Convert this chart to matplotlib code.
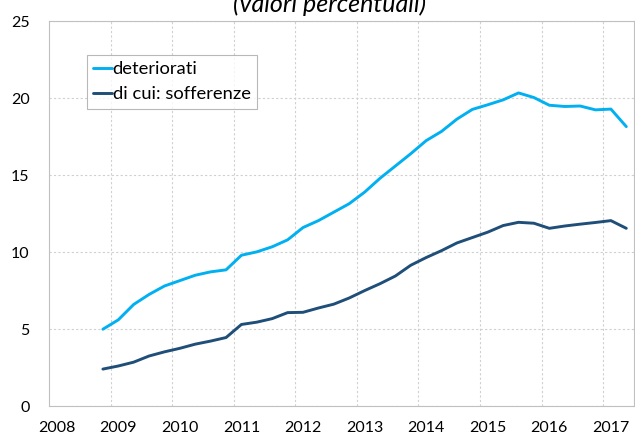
import numpy as np
import matplotlib
matplotlib.use("Agg")
import matplotlib.pyplot as plt

plt.rcParams['font.family'] = ['Lato', 'DejaVu Sans']

# quarterly observations, Q4 2008 .. Q2 2017
quarters = np.arange(35) * 0.25 + 2008.875

deteriorati = [4.99, 5.6, 6.6, 7.25, 7.8, 8.15, 8.5, 8.72, 8.85, 9.8,
               10.02, 10.35, 10.8, 11.6, 12.05, 12.6, 13.15, 13.9, 14.8, 15.6,
               16.4, 17.25, 17.85, 18.65, 19.28, 19.58, 19.9, 20.35, 20.05, 19.55,
               19.47, 19.5, 19.25, 19.3, 18.16]
sofferenze = [2.40, 2.6, 2.85, 3.25, 3.52, 3.75, 4.02, 4.22, 4.45, 5.3,
              5.45, 5.68, 6.07, 6.09, 6.37, 6.62, 7.02, 7.5, 7.95, 8.45,
              9.15, 9.65, 10.1, 10.6, 10.95, 11.3, 11.73, 11.94, 11.88, 11.55,
              11.7, 11.82, 11.93, 12.05, 11.55]

years = list(range(2008, 2018))
year_labels = [str(y) for y in years]
y_ticks = [0, 5, 10, 15, 20, 25]

fig = plt.figure(figsize=(6.35, 4.37), dpi=100)
ax = fig.add_axes([49 / 635, 1 - 406 / 437, 585 / 635, (406 - 21.4) / 437])

ax.plot(quarters, deteriorati, color='#00b0f0', lw=2.1, solid_capstyle='round',
        solid_joinstyle='round', label='deteriorati')
ax.plot(quarters, sofferenze, color='#1f4e79', lw=2.1, solid_capstyle='round',
        solid_joinstyle='round', label='di cui: sofferenze')

ax.set_xlim(2008, 2017.5)
ax.set_ylim(0, 25)
ax.set_yticks(y_ticks)

# labels sit a little right of the year gridlines
ax.set_xticks([y + 0.125 for y in years])
ax.set_xticklabels(year_labels)
ax.set_xticks(years[1:], minor=True)
ax.tick_params(axis='x', which='both', length=0, pad=11, labelsize=11.5, colors='black')
ax.tick_params(axis='y', length=0, pad=14, labelsize=11.5, colors='black')

grid_kw = dict(color='#d0d0d0', lw=0.8, linestyle=(0, (2, 2)))
ax.grid(axis='y', which='major', **grid_kw)
ax.grid(axis='x', which='minor', **grid_kw)
ax.grid(axis='x', which='major', visible=False)

for s in ax.spines.values():
    s.set_color('#c0c0c0')
    s.set_linewidth(0.8)

leg = ax.legend(loc='upper left', bbox_to_anchor=(0.065, 0.913), fontsize=13.2,
                frameon=True, fancybox=False, handlelength=1.0, handletextpad=0.05,
                labelspacing=0.5, borderpad=0.35, borderaxespad=0)
leg.get_frame().set_edgecolor('#a6a6a6')
leg.get_frame().set_linewidth(0.8)

fig.text(330 / 635, 1 - 12 / 437, '(valori percentuali)', fontsize=18,
         style='italic', ha='center', va='baseline')

fig.savefig('out.png', dpi=100)
